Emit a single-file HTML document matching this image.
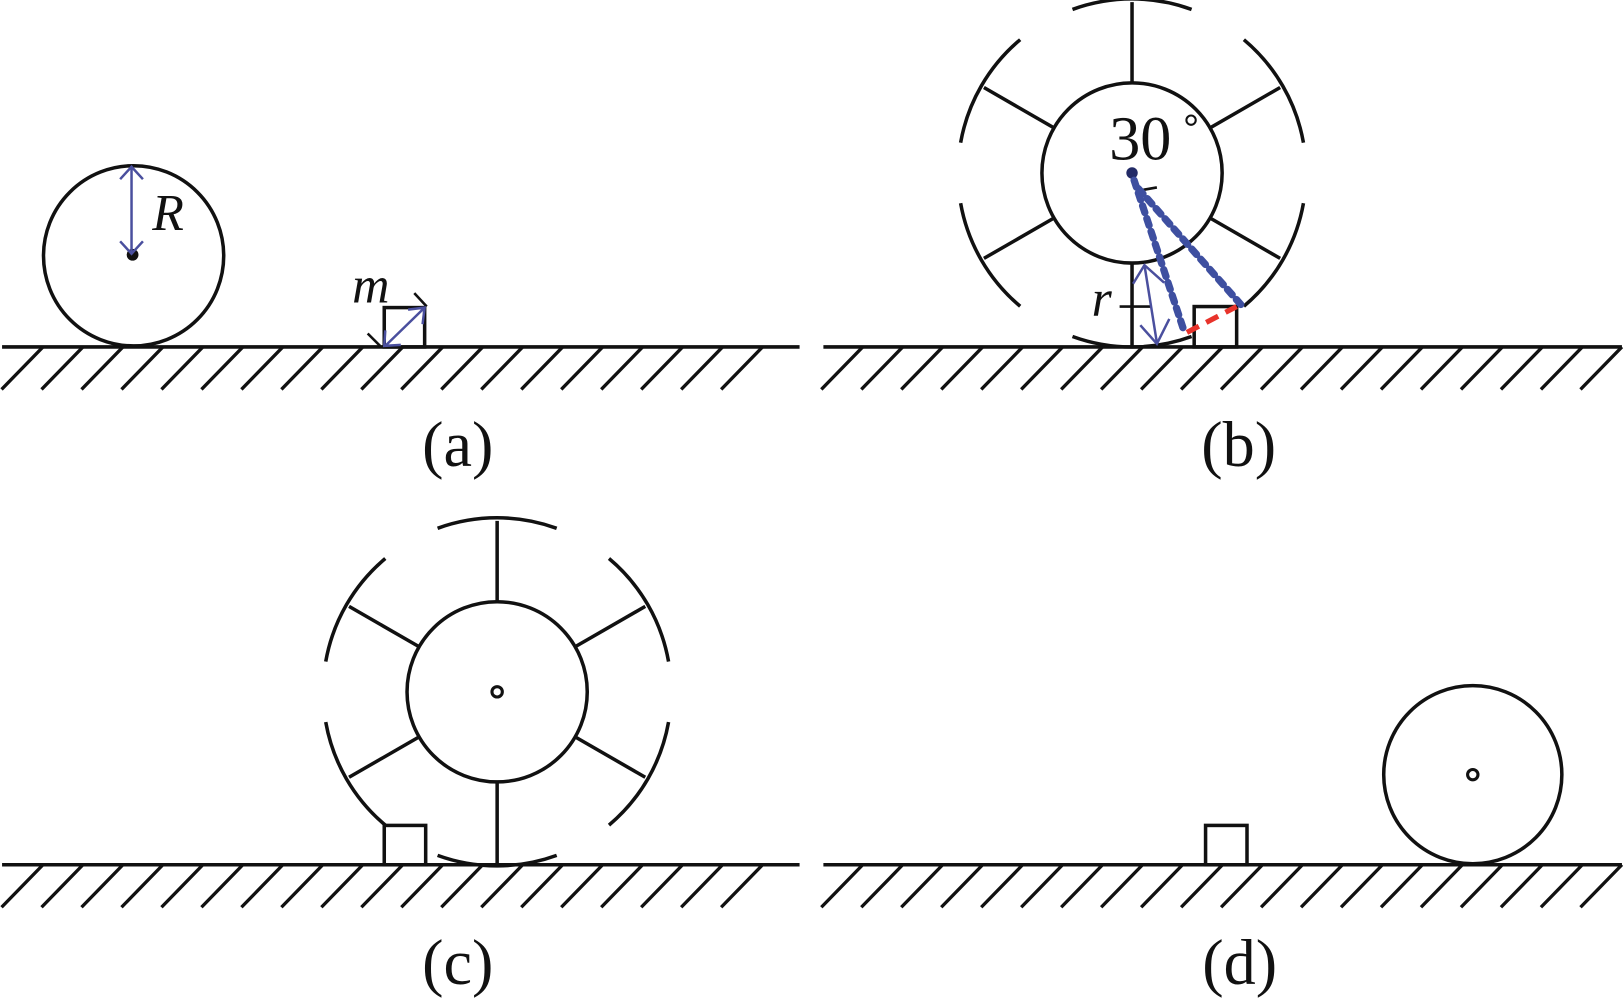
<!DOCTYPE html>
<html><head><meta charset="utf-8"><style>html,body{margin:0;padding:0;background:#fff}svg{display:block}</style></head>
<body>
<svg width="1624" height="1002" viewBox="0 0 1568 967.5" preserveAspectRatio="none" xmlns="http://www.w3.org/2000/svg">
<g fill="none" stroke="#111" stroke-width="3.4">
<line x1="2" y1="335" x2="772" y2="335"/>
<line x1="795" y1="335" x2="1566" y2="335"/>
<line x1="2" y1="835" x2="772" y2="835"/>
<line x1="795" y1="835" x2="1566" y2="835"/>
</g>
<g stroke="#111" stroke-width="3.2">
<path d="
M41.5 335 l-40 41 M80.1 335 l-40 41 M118.7 335 l-40 41 M157.3 335 l-40 41 M195.9 335 l-40 41 M234.5 335 l-40 41 M273.1 335 l-40 41 M311.7 335 l-40 41 M350.3 335 l-40 41 M388.9 335 l-40 41 M427.5 335 l-40 41 M466.1 335 l-40 41 M504.7 335 l-40 41 M543.3 335 l-40 41 M581.9 335 l-40 41 M620.5 335 l-40 41 M659.1 335 l-40 41 M697.7 335 l-40 41 M736.3 335 l-40 41
M41.5 835 l-40 41 M80.1 835 l-40 41 M118.7 835 l-40 41 M157.3 835 l-40 41 M195.9 835 l-40 41 M234.5 835 l-40 41 M273.1 835 l-40 41 M311.7 835 l-40 41 M350.3 835 l-40 41 M388.9 835 l-40 41 M427.5 835 l-40 41 M466.1 835 l-40 41 M504.7 835 l-40 41 M543.3 835 l-40 41 M581.9 835 l-40 41 M620.5 835 l-40 41 M659.1 835 l-40 41 M697.7 835 l-40 41 M736.3 835 l-40 41
M833 335 l-40 41 M871.6 335 l-40 41 M910.2 335 l-40 41 M948.8 335 l-40 41 M987.4 335 l-40 41 M1026 335 l-40 41 M1064.6 335 l-40 41 M1103.2 335 l-40 41 M1141.8 335 l-40 41 M1180.4 335 l-40 41 M1219 335 l-40 41 M1257.6 335 l-40 41 M1296.2 335 l-40 41 M1334.8 335 l-40 41 M1373.4 335 l-40 41 M1412 335 l-40 41 M1450.6 335 l-40 41 M1489.2 335 l-40 41 M1527.8 335 l-40 41 M1566 335 l-40 41
M833 835 l-40 41 M871.6 835 l-40 41 M910.2 835 l-40 41 M948.8 835 l-40 41 M987.4 835 l-40 41 M1026 835 l-40 41 M1064.6 835 l-40 41 M1103.2 835 l-40 41 M1141.8 835 l-40 41 M1180.4 835 l-40 41 M1219 835 l-40 41 M1257.6 835 l-40 41 M1296.2 835 l-40 41 M1334.8 835 l-40 41 M1373.4 835 l-40 41 M1412 835 l-40 41 M1450.6 835 l-40 41 M1489.2 835 l-40 41 M1527.8 835 l-40 41 M1566 835 l-40 41"/>
</g>

<!-- (a) -->
<g fill="none" stroke="#111" stroke-width="3.4">
<circle cx="129" cy="247" r="87"/>
<circle cx="128" cy="246" r="4" fill="#111"/>
<rect x="371" y="297" width="39" height="38"/>
<line x1="355" y1="322" x2="368" y2="335" stroke-width="2.5"/>
<line x1="400" y1="283" x2="412" y2="296" stroke-width="2.5"/>
</g>
<g fill="none" stroke="#4a4f9e" stroke-width="2.4">
<line x1="127" y1="162" x2="127" y2="244"/>
<path d="M116 173 L127 161 L138 173 M116 233 L127 245 L138 233"/>
<line x1="372" y1="334" x2="409" y2="298"/>
<path d="M394 299 L410 297 L408 313 M372 319 L371 334 L387 333"/>
</g>
<text x="147" y="222" font-family="Liberation Serif, serif" font-style="italic" font-size="50" fill="#111">R</text>
<text x="340" y="292" font-family="Liberation Serif, serif" font-style="italic" font-size="50" fill="#111">m</text>
<text x="442" y="450" text-anchor="middle" font-family="Liberation Serif, serif" font-size="62" fill="#111">(a)</text>

<!-- (b) -->
<g fill="none" stroke="#111" stroke-width="3.4">
<circle cx="1093" cy="167" r="87"/>
<line x1="1093" y1="80" x2="1093" y2="2"/>
<line x1="1093" y1="254" x2="1093" y2="335"/>
<line x1="1168.3" y1="123.5" x2="1236" y2="84.5"/>
<line x1="1168.3" y1="210.5" x2="1236" y2="249.5"/>
<line x1="1017.7" y1="123.5" x2="950" y2="84.5"/>
<line x1="1017.7" y1="210.5" x2="950" y2="249.5"/>
<path d="M1035.5 9.1 A168 168 0 0 1 1150.5 9.1"/>
<path d="M1201 38.3 A168 168 0 0 1 1258.5 137.8"/>
<path d="M1258.5 196.2 A168 168 0 0 1 1201 295.7"/>
<path d="M1150.5 324.9 A168 168 0 0 1 1035.5 324.9"/>
<path d="M985 295.7 A168 168 0 0 1 927.5 196.2"/>
<path d="M927.5 137.8 A168 168 0 0 1 985 38.3"/>
<rect x="1153" y="296" width="41" height="39"/>
<line x1="1081" y1="296" x2="1111" y2="296" stroke-width="2.6"/>
<line x1="1100" y1="184" x2="1117" y2="181" stroke-width="2.6"/>
</g>
<circle cx="1093" cy="167" r="5.5" fill="#222a66"/>
<g fill="none" stroke="#3e4fa0" stroke-width="7" stroke-dasharray="7 6" stroke-linecap="round">
<line x1="1095" y1="174" x2="1144" y2="322"/>
<line x1="1099" y1="182" x2="1198" y2="294"/>
</g>
<line x1="1146" y1="321" x2="1194" y2="296" stroke="#e8332b" stroke-width="5" stroke-dasharray="13 8"/>
<g fill="none" stroke="#4a4f9e" stroke-width="2.4">
<line x1="1105" y1="256" x2="1117" y2="331"/>
<path d="M1094 274 L1105 256 L1124 273 M1101 314 L1117 332 L1129 308"/>
</g>
<text x="1071" y="154" font-family="Liberation Serif, serif" font-size="60" fill="#111">30</text>
<circle cx="1150" cy="116" r="4.5" fill="none" stroke="#111" stroke-width="2"/>
<text x="1054" y="305" font-family="Liberation Serif, serif" font-style="italic" font-size="50" fill="#111">r</text>
<text x="1196" y="450" text-anchor="middle" font-family="Liberation Serif, serif" font-size="62" fill="#111">(b)</text>

<!-- (c) -->
<g fill="none" stroke="#111" stroke-width="3.4">
<circle cx="480" cy="668" r="87"/>
<circle cx="480" cy="668" r="5" stroke-width="3"/>
<line x1="480" y1="581" x2="480" y2="503"/>
<line x1="480" y1="755" x2="480" y2="835"/>
<line x1="555.3" y1="624.5" x2="623" y2="585.5"/>
<line x1="555.3" y1="711.5" x2="623" y2="750.5"/>
<line x1="404.7" y1="624.5" x2="337" y2="585.5"/>
<line x1="404.7" y1="711.5" x2="337" y2="750.5"/>
<path d="M422.5 510.1 A168 168 0 0 1 537.5 510.1"/>
<path d="M588 539.3 A168 168 0 0 1 645.5 638.8"/>
<path d="M645.5 697.2 A168 168 0 0 1 588 796.7"/>
<path d="M537.5 825.9 A168 168 0 0 1 422.5 825.9"/>
<path d="M372 796.7 A168 168 0 0 1 314.5 697.2"/>
<path d="M314.5 638.8 A168 168 0 0 1 372 539.3"/>
<rect x="371" y="797" width="40" height="38"/>
</g>
<text x="442" y="950" text-anchor="middle" font-family="Liberation Serif, serif" font-size="62" fill="#111">(c)</text>

<!-- (d) -->
<g fill="none" stroke="#111" stroke-width="3.4">
<circle cx="1422" cy="748" r="86"/>
<circle cx="1422" cy="748" r="5" stroke-width="3"/>
<rect x="1164" y="797" width="40" height="38"/>
</g>
<text x="1197" y="950" text-anchor="middle" font-family="Liberation Serif, serif" font-size="62" fill="#111">(d)</text>
</svg>
</body></html>
